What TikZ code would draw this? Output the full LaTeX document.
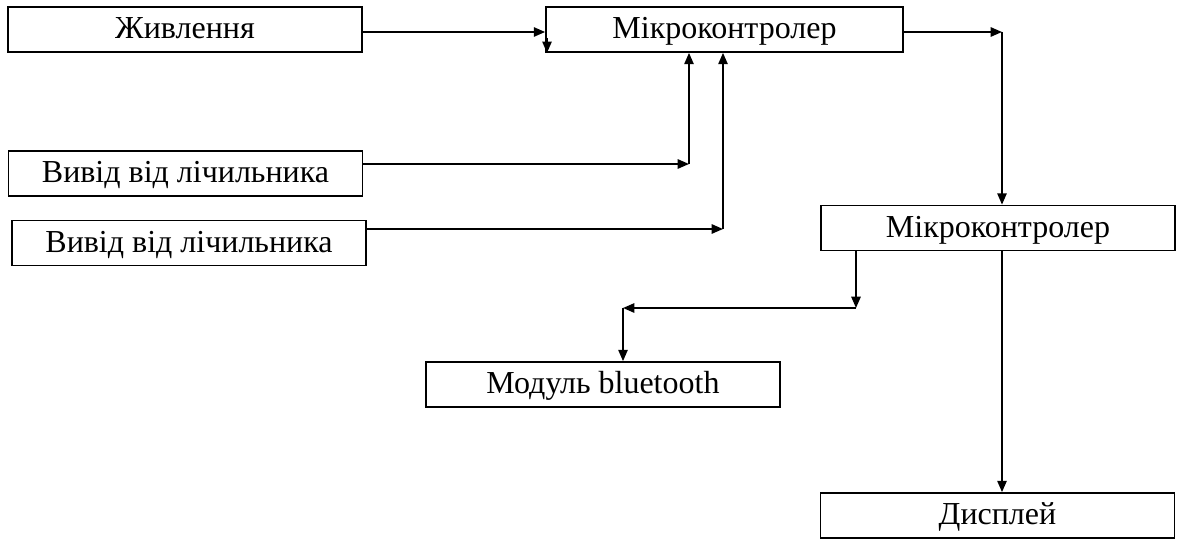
\documentclass[tikz,border=0pt]{standalone}
\usepackage{fontspec}
\setmainfont{Liberation Serif}
\usetikzlibrary{arrows.meta}
\begin{document}
\begin{tikzpicture}[x=0.75pt,y=-0.75pt,
  box/.style={draw, line width=1.3pt, minimum width=265.5pt, minimum height=33.75pt, inner sep=0pt,
    text height=16pt, text depth=2pt, font=\fontsize{24}{28}\selectfont},
  arr/.style={line width=1.3pt, -{Triangle[length=8.5pt,width=7pt]}}]
\useasboundingbox (0,0) rectangle (1181,542);
\node[box] (pw)   at (185,29.5)   {Живлення};
\node[box, minimum width=267.75pt] (mc1)  at (724.5,29.5) {Мікроконтролер};
\node[box] (cnt1) at (185.5,173.5) {Вивід від лічильника};
\node[box] (cnt2) at (189,243)    {Вивід від лічильника};
\node[box] (mc2)  at (998,228)    {Мікроконтролер};
\node[box] (bt)   at (603,384.5)  {Модуль bluetooth};
\node[box] (disp) at (997.5,515.5) {Дисплей};
\coordinate (c0) at (546,32);
\coordinate (q)  at (547,38);
\coordinate (c1) at (689,164);
\coordinate (c2) at (723,229);
\coordinate (c3) at (1002,32);
\coordinate (c4) at (856,308);
\coordinate (c5) at (623,308);
\draw[arr] (pw.east |- c0) -- (mc1.west |- c0);
\draw[arr] (q) -- (q |- mc1.south);
\draw[arr] (cnt1.east |- c1) -- (c1);
\draw[arr] (c1) -- (c1 |- mc1.south);
\draw[arr] (cnt2.east |- c2) -- (c2);
\draw[arr] (c2) -- (c2 |- mc1.south);
\draw[arr] (mc1.east |- c3) -- (c3);
\draw[arr] (c3) -- (c3 |- mc2.north);
\draw[arr] (c4 |- mc2.south) -- (c4);
\draw[arr] (c4) -- (c5);
\draw[arr] (c5) -- (c5 |- bt.north);
\draw[arr] (c3 |- mc2.south) -- (c3 |- disp.north);
\end{tikzpicture}
\end{document}
